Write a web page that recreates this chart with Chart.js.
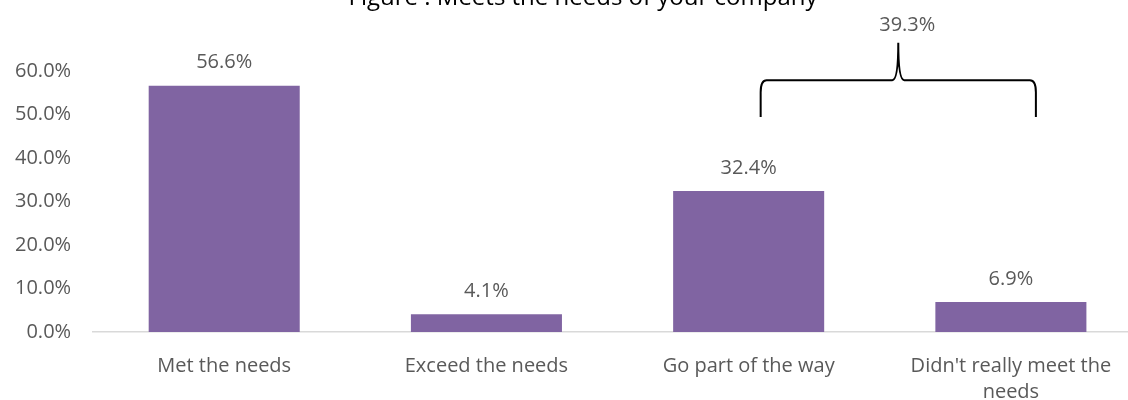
<!DOCTYPE html>
<html>
<head>
<meta charset="utf-8">
<script src="https://cdn.jsdelivr.net/npm/chart.js@4.4.1/dist/chart.umd.min.js"></script>
<style>
  html, body { margin: 0; padding: 0; background: #fff; overflow: hidden; width: 1128px; height: 400px; }
  #wrap { position: absolute; left: 0; top: -20px; width: 1166px; height: 440px; }
</style>
</head>
<body>
<div id="wrap"><canvas id="chart"></canvas></div>
<script>
  // survey answers, in percent
  const categories = ['Met the needs', 'Exceed the needs', 'Go part of the way', ["Didn't really meet the", 'needs']];
  const shares = [56.6, 4.1, 32.4, 6.9];
  const yTicks = [0, 10, 20, 30, 40, 50, 60];
  const titleText = 'Figure : Meets the needs of your company';
  // the bracket groups the last two answers
  const bracketGroup = [2, 3];

  const FONT = "'Open Sans', sans-serif";
  const TEXT = '#595959';

  const overlay = {
    id: 'overlay',
    afterDatasetsDraw(chart) {
      const { ctx, scales: { x, y } } = chart;
      const meta = chart.getDatasetMeta(0);
      ctx.save();

      // value labels above bars
      ctx.font = '20px ' + FONT;
      ctx.fillStyle = TEXT;
      ctx.textAlign = 'center';
      ctx.textBaseline = 'middle';
      meta.data.forEach((bar, i) => {
        ctx.fillText(shares[i].toFixed(1) + '%', bar.x, bar.y - 23);
      });

      // title
      ctx.font = '24px ' + FONT;
      ctx.fillStyle = '#000';
      ctx.textBaseline = 'alphabetic';
      ctx.fillText(titleText, chart.width / 2, 25);

      // curly bracket over the grouped bars
      const x0 = x.getPixelForValue(bracketGroup[0]) + 12;
      const x1 = x.getPixelForValue(bracketGroup[1]) + 25;
      const xm = (x0 + x1) / 2;
      const yEnd = y.getPixelForValue(49.4);
      const yBar = y.getPixelForValue(57.9);
      const yTip = y.getPixelForValue(66.5);
      const r = 6;
      ctx.strokeStyle = '#000';
      ctx.lineWidth = 2;
      ctx.beginPath();
      ctx.moveTo(x0, yEnd);
      ctx.lineTo(x0, yBar + r * 2);
      ctx.quadraticCurveTo(x0, yBar, x0 + r, yBar);
      ctx.lineTo(xm - r, yBar);
      ctx.quadraticCurveTo(xm, yBar, xm, yTip);
      ctx.quadraticCurveTo(xm, yBar, xm + r, yBar);
      ctx.lineTo(x1 - r, yBar);
      ctx.quadraticCurveTo(x1, yBar, x1, yBar + r * 2);
      ctx.lineTo(x1, yEnd);
      ctx.stroke();

      const sum = bracketGroup.reduce((s, i) => s + shares[i], 0);
      ctx.font = '20px ' + FONT;
      ctx.fillStyle = TEXT;
      ctx.textBaseline = 'middle';
      ctx.fillText(sum.toFixed(1) + '%', xm + 9, yTip - 17);
      ctx.restore();
    }
  };

  new Chart(document.getElementById('chart'), {
    type: 'bar',
    data: {
      labels: categories,
      datasets: [{
        data: shares,
        backgroundColor: '#8064A2',
        categoryPercentage: 1,
        barPercentage: 0.576
      }]
    },
    options: {
      responsive: true,
      maintainAspectRatio: false,
      animation: false,
      // tick padding is counted on both sides of the labels, hence the negative edges
      layout: { padding: { left: -7, right: 24, top: 91, bottom: -6 } },
      plugins: { legend: { display: false }, tooltip: { enabled: false } },
      scales: {
        x: {
          grid: { display: false, drawTicks: false },
          border: { color: '#d9d9d9', width: 1.5 },
          ticks: { color: TEXT, font: { family: FONT, size: 20, lineHeight: 1.3 }, padding: 21, maxRotation: 0 }
        },
        y: {
          min: 0,
          max: 60,
          afterBuildTicks(axis) { axis.ticks = yTicks.map(v => ({ value: v })); },
          grid: { display: false, drawTicks: false },
          border: { display: false },
          ticks: { color: TEXT, font: { family: FONT, size: 20 }, padding: 22, callback: v => v.toFixed(1) + '%' }
        }
      }
    },
    plugins: [overlay]
  });
</script>
</body>
</html>
